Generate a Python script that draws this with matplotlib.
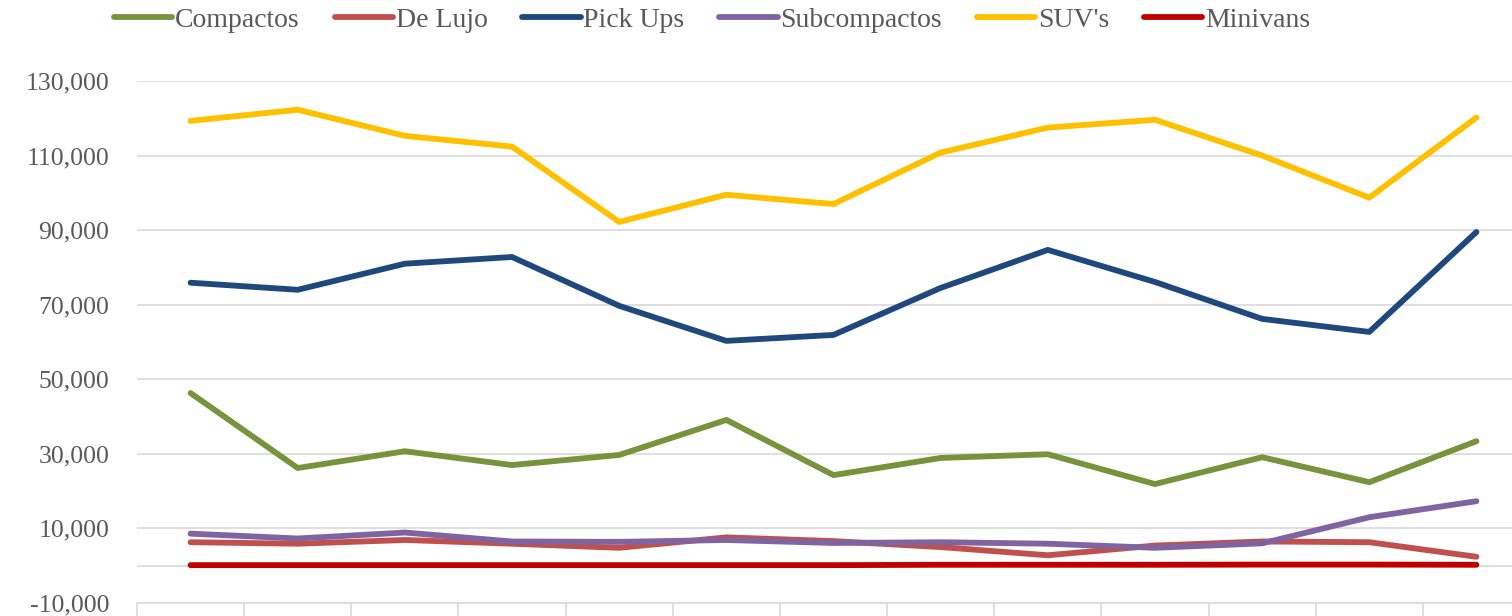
import matplotlib
matplotlib.use("Agg")
import matplotlib.pyplot as plt
from matplotlib.ticker import FuncFormatter, FixedLocator
import numpy as np

# monthly units per segment
series_names = ["Compactos", "De Lujo", "Pick Ups", "Subcompactos", "SUV's", "Minivans"]
compactos = [46300, 26200, 30700, 27000, 29700, 39100, 24300, 28900, 29900, 21900, 29100, 22400, 33400]
de_lujo = [6300, 5900, 6900, 5900, 4800, 7600, 6600, 5000, 2800, 5400, 6500, 6300, 2400]
pick_ups = [75900, 74000, 81000, 82800, 69700, 60300, 61900, 74500, 84700, 76100, 66200, 62700, 89500]
subcompactos = [8600, 7300, 8900, 6500, 6400, 6900, 6100, 6300, 5900, 4800, 6000, 13000, 17300]
suvs = [119300, 122300, 115300, 112400, 92200, 99500, 97000, 110800, 117500, 119600, 110000, 98700, 120200]
minivans = [150, 150, 150, 150, 150, 150, 150, 250, 250, 250, 300, 300, 250]
colors = ["#77933C", "#C0504D", "#1F497D", "#8064A2", "#FFC000", "#C00000"]
yticks = [-10000, 10000, 30000, 50000, 70000, 90000, 110000, 130000]

plt.rcParams['font.family'] = ['Liberation Serif', 'DejaVu Serif']

W, H = 1512, 616
fig = plt.figure(figsize=(W / 100, H / 100), dpi=100)
# plot area runs off the right edge of the picture
ax = fig.add_axes([137 / W, 13 / H, (1530 - 137) / W, (603 - 81) / H])

x = np.arange(len(compactos))
data = [compactos, de_lujo, pick_ups, subcompactos, suvs, minivans]
for name, vals, c in zip(series_names, data, colors):
    ax.plot(x, vals, color=c, lw=4.2, label=name, solid_capstyle='round',
            solid_joinstyle='round', zorder=3)

ax.set_xlim(-0.5, len(x) - 0.5)
ax.set_ylim(-10000, 130000)
ax.yaxis.set_major_locator(FixedLocator(yticks))
ax.yaxis.set_major_formatter(FuncFormatter(lambda v, p: f"{int(v):,}"))
ax.grid(axis='y', color='#D9D9D9', lw=1.2, zorder=0)
ax.axhline(0, color='#D9D9D9', lw=1.2, zorder=1)

# category dividers below the axis
ax.xaxis.set_major_locator(FixedLocator(np.arange(-0.5, len(x) + 0.5, 1)))
ax.tick_params(axis='x', direction='out', length=20, width=1.2, color='#D9D9D9',
               labelbottom=False)
ax.tick_params(axis='y', length=0, pad=20, labelsize=18.5, labelcolor='#595959')
for side in ['top', 'right', 'left']:
    ax.spines[side].set_visible(False)
ax.spines['bottom'].set_color('#D9D9D9')
ax.spines['bottom'].set_linewidth(1.2)

fig.legend(loc='center', bbox_to_anchor=(712 / W, 1 - 20 / H), ncol=6,
           frameon=False, fontsize=20, handlelength=2.1, handletextpad=0.1,
           columnspacing=1.25, labelcolor='#595959')

fig.savefig("out.png", dpi=100)
